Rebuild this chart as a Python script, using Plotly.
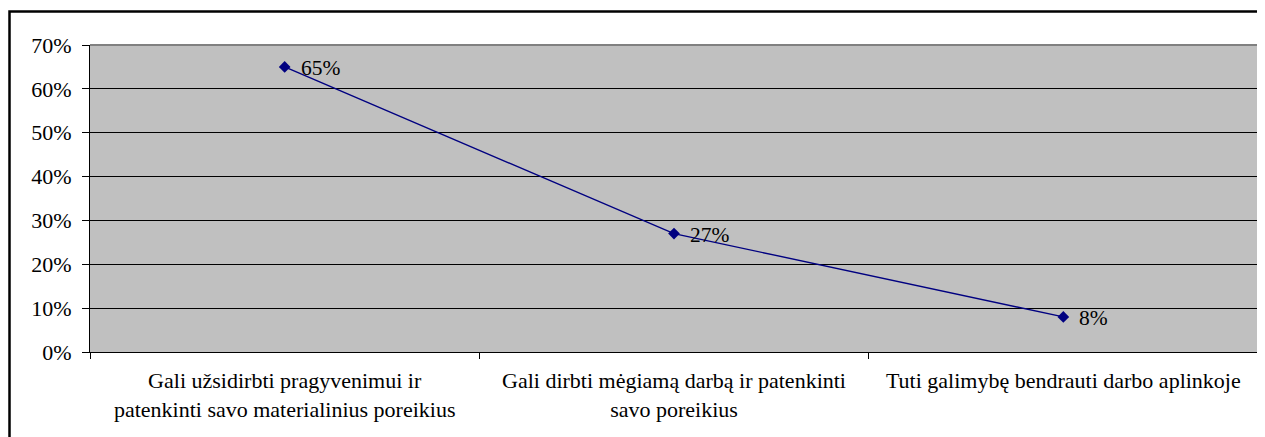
import plotly.graph_objects as go

categories = [
    "Gali užsidirbti pragyvenimui ir<br>patenkinti savo materialinius poreikius",
    "Gali dirbti mėgiamą darbą ir patenkinti<br>savo poreikius",
    "Tuti galimybę bendrauti darbo aplinkoje",
]
values = [65, 27, 8]
value_labels = ["65%", "27%", "8%"]
y_ticks = [0, 10, 20, 30, 40, 50, 60, 70]
y_tick_labels = ["0%", "10%", "20%", "30%", "40%", "50%", "60%", "70%"]

FONT = "Liberation Serif"
FS = 22

# page body has an 8px margin; size the figure so it fills the window
OFF = 8
W, H = 1265 - OFF, 437 - OFF
# plot-area edges in window pixels, converted to figure pixels
L, R, T, B = 90 - OFF, 1258 - OFF, 45 - OFF, 352 - OFF
pw, ph = R - L, B - T

def px_x(x):
    return (x - L) / pw

def px_y(y):
    return (B - y) / ph

fig = go.Figure()
fig.add_trace(go.Scatter(
    x=categories, y=values,
    mode="lines+markers",
    line=dict(color="#000080", width=1.4),
    marker=dict(symbol="diamond", size=9, color="#000080"),
    showlegend=False,
))

annotations = [
    dict(x=c, y=v, text=t, xref="x", yref="y", showarrow=False,
         xanchor="left", yanchor="middle", xshift=14, yshift=-1,
         font=dict(family=FONT, size=21.5, color="black"))
    for c, v, t in zip(categories, values, value_labels)
]

fig.update_layout(
    width=W, height=H,
    margin=dict(l=L, r=W - R, t=T, b=H - B, autoexpand=False),
    paper_bgcolor="white",
    plot_bgcolor="#C0C0C0",
    font=dict(family=FONT, size=FS, color="black"),
    annotations=annotations,
    xaxis=dict(
        type="category",
        range=[-0.5, 2.5],
        tickson="boundaries",
        ticks="outside", ticklen=6, tickcolor="black", tickwidth=1,
        ticklabelstandoff=9,
        showline=True, linecolor="black", linewidth=1,
        showgrid=False, zeroline=False,
        tickfont=dict(family=FONT, size=FS, color="black"),
        fixedrange=True,
    ),
    yaxis=dict(
        range=[0, 70],
        tickvals=y_ticks, ticktext=y_tick_labels,
        ticks="outside", ticklen=7, tickcolor="black", tickwidth=1,
        ticklabelstandoff=6,
        showline=True, linecolor="black", linewidth=1,
        showgrid=True, gridcolor="black", gridwidth=1,
        zeroline=False,
        tickfont=dict(family=FONT, size=FS, color="black"),
        fixedrange=True,
    ),
    shapes=[
        dict(type="line", xref="paper", yref="paper", x0=0, x1=1, y0=1, y1=1,
             line=dict(color="#808080", width=2), layer="above"),
        dict(type="line", xref="paper", yref="paper", x0=1, x1=1, y0=0, y1=1,
             line=dict(color="#808080", width=2), layer="above"),
        dict(type="rect", xref="paper", yref="paper",
             x0=px_x(9.5 - OFF), x1=px_x(1275 - OFF),
             y0=px_y(460 - OFF), y1=px_y(11.5 - OFF),
             line=dict(color="black", width=2.5), layer="above"),
    ],
)

fig.write_html("out.html")
